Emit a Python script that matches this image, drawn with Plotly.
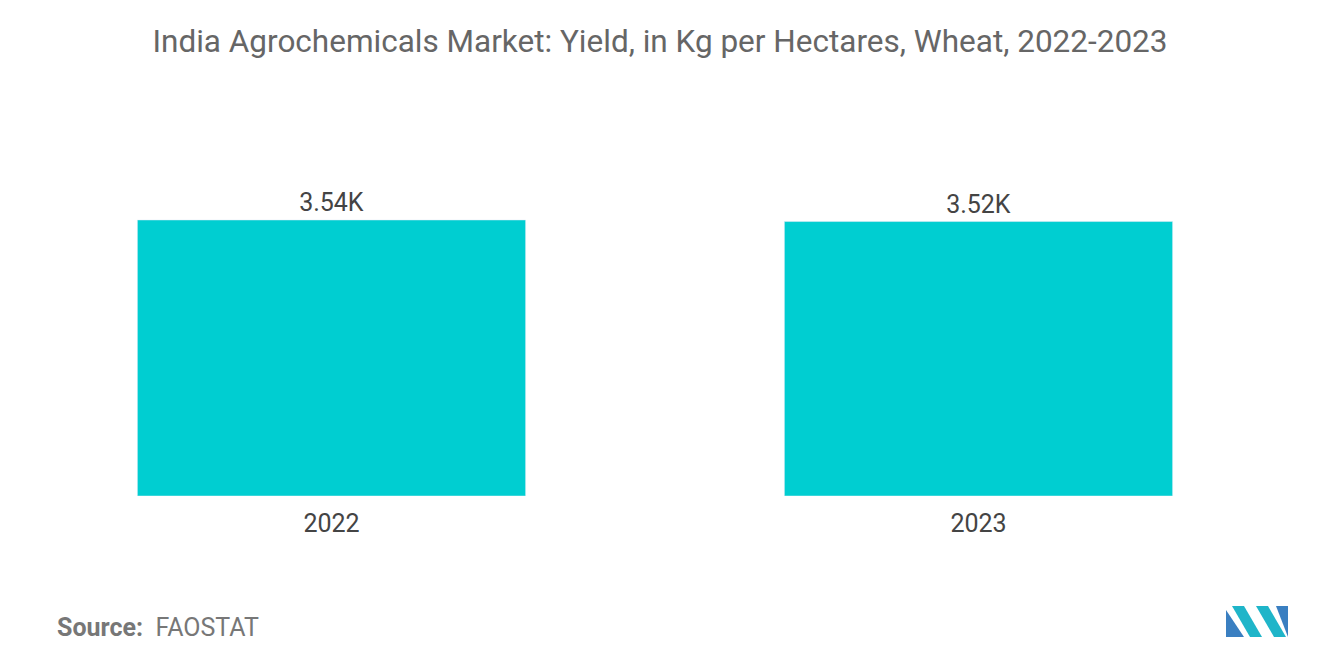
import plotly.graph_objects as go

years = ["2022", "2023"]
yield_kg = [3540, 3520]
labels = ["3.54K", "3.52K"]

W, H = 1304, 650
L, R, T, B = 0, 10, 122, 162
fig = go.Figure(go.Bar(
    x=years, y=yield_kg, text=labels, textposition="outside",
    marker_color="#00CED1", width=0.6, cliponaxis=False,
    textfont=dict(size=25, color="#444", family="Roboto"),
))
fig.update_layout(
    width=W, height=H, plot_bgcolor="white", paper_bgcolor="white",
    margin=dict(l=L, r=R, t=T, b=B),
    title=dict(text="India Agrochemicals Market: Yield, in Kg per Hectares, Wheat, 2022-2023",
               x=0.5, xanchor="center", y=1-(33/H), yanchor="middle",
               font=dict(size=31.5, color="#666", family="Roboto")),
    xaxis=dict(showline=False, showgrid=False, ticks="", ticklabelstandoff=10,
               tickfont=dict(size=25, color="#444", family="Roboto")),
    yaxis=dict(visible=False, range=[0, 4694]),
    showlegend=False,
    font=dict(family="Roboto"),
)
PW, PH = W-L-R, H-T-B
def px(x, y):
    return ((x-8-L)/PW, (H-B-(y-8))/PH)
sx, sy = px(55, 627)
fig.add_annotation(text="<b>Source:</b>  FAOSTAT", xref="paper", yref="paper",
                   x=sx, y=sy, xanchor="left", yanchor="middle",
                   showarrow=False, font=dict(size=25, color="#777", family="Roboto"))
def poly(pts, color):
    path = "M " + " L ".join(f"{px(a,b)[0]},{px(a,b)[1]}" for a, b in pts) + " Z"
    fig.add_shape(type="path", path=path, xref="paper", yref="paper", fillcolor=color, line_width=0)
poly([(1226,637),(1226,610),(1244,637)], "#3A7FC1")
poly([(1232,606),(1244,606),(1262,637),(1250,637)], "#1FB5C9")
poly([(1256,606),(1268,606),(1286,637),(1274,637)], "#1FB5C9")
poly([(1276,606),(1288,606),(1288,637)], "#3A7FC1")
fig.write_html("out.html")
